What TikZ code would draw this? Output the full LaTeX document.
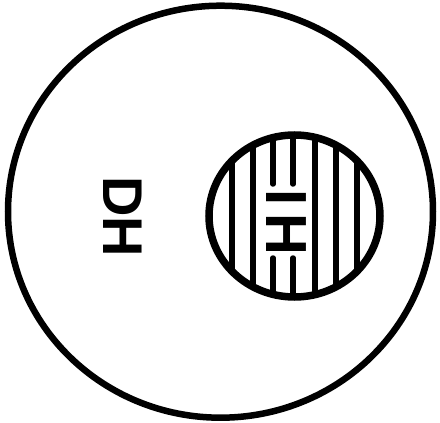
\documentclass[tikz,border=0pt]{standalone}
\usepackage{fontspec}
\setmainfont{Liberation Sans}
\begin{document}
\begin{tikzpicture}[x=1pt,y=-1pt,
  hatchline/.style={line width=5.5pt, line cap=round},
  txtlabel/.style={rotate=-90, inner sep=0pt}]
\useasboundingbox[fill=white] (0,0) rectangle (440,423);
\draw[line width=6.5pt] (220.5,211.7) ellipse [x radius=212.5, y radius=206];
\begin{scope}
\clip (294.5,216) ellipse [x radius=85.5, y radius=81];
\foreach \x in {232,253,315,336,357} \draw[hatchline] (\x,120) -- (\x,310);
\foreach \x in {273,293} {\draw[hatchline] (\x,120) -- (\x,184); \draw[hatchline] (\x,258) -- (\x,310);}
\end{scope}
\draw[line width=7.5pt] (294.5,216) ellipse [x radius=85.5, y radius=81];
\node[txtlabel, font=\bfseries\fontsize{56}{56}\selectfont] (dh) at (123,217) {DH};
\node[txtlabel, font=\bfseries\fontsize{58}{58}\selectfont] (ih) at (286,222) {I\kern8pt H};
\end{tikzpicture}
\end{document}
